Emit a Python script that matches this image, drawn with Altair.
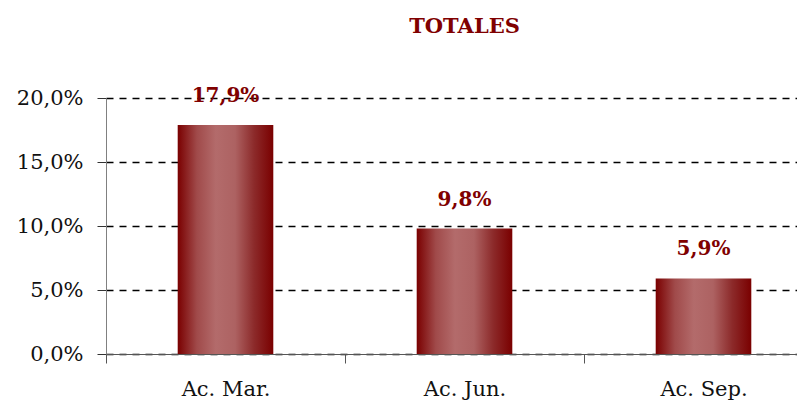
import altair as alt
import pandas as pd

categories = ["Ac. Mar.", "Ac. Jun.", "Ac. Sep."]
values = [17.9, 9.8, 5.9]
y_ticks = [0, 5, 10, 15, 20]

df = pd.DataFrame({"cat": categories, "v": values})

DARK = "#800000"
FONT = "DejaVu Serif"

grad = alt.Gradient(
    gradient="linear",
    x1=0, x2=1, y1=0, y2=0,
    stops=[
        alt.GradientStop(color="#7a0000", offset=0),
        alt.GradientStop(color="#a04a4a", offset=0.2),
        alt.GradientStop(color="#b36b6b", offset=0.4),
        alt.GradientStop(color="#ad6262", offset=0.6),
        alt.GradientStop(color="#8c2a2a", offset=0.8),
        alt.GradientStop(color="#7a0000", offset=1),
    ],
)

x = alt.X(
    "cat:N",
    sort=categories,
    title=None,
    scale=alt.Scale(paddingInner=0, paddingOuter=0),
    axis=alt.Axis(
        labelAngle=0,
        tickBand="extent",
        ticks=True,
        tickSize=9,
        tickColor="#555555",
        domainColor="#555555",
        labelFont=FONT,
        labelFontSize=21,
        labelColor="#111111",
        labelPadding=15,
        grid=False,
    ),
)

y = alt.Y(
    "v:Q",
    title=None,
    scale=alt.Scale(domain=[0, 20], nice=False),
    axis=alt.Axis(
        values=y_ticks,
        labelExpr="replace(format(datum.value, '.1f'), '.', ',') + '%'",
        tickSize=9,
        tickColor="#333333",
        domainColor="#808080",
        labelFont=FONT,
        labelFontSize=21,
        labelColor="#111111",
        labelPadding=14,
        grid=True,
        gridColor="#000000",
        gridDash=[7, 6],
        gridWidth=1.3,
    ),
)

base = alt.Chart(df)

bars = base.mark_bar(color=grad, width=alt.RelativeBandSize(0.4)).encode(x=x, y=y)

labels = base.transform_calculate(
    lbl="replace(format(datum.v, '.1f'), '.', ',') + '%'"
).mark_text(
    baseline="bottom", dy=-19, font=FONT, fontSize=20, fontWeight="bold", color=DARK
).encode(x=x, y=y, text="lbl:N")

chart = (
    alt.layer(bars, labels)
    .properties(
        width=717,
        height=256,
        padding={"left": 98, "top": 90, "right": -26, "bottom": 46},
        autosize=alt.AutoSizeParams(type="none"),
        title=alt.TitleParams(
            "TOTALES",
            font=FONT,
            fontSize=21,
            fontWeight="bold",
            color=DARK,
            anchor="middle",
            offset=49,
        ),
    )
    .configure_view(stroke=None)
)

chart.save("out.html", embed_options={"renderer": "svg", "actions": False})
